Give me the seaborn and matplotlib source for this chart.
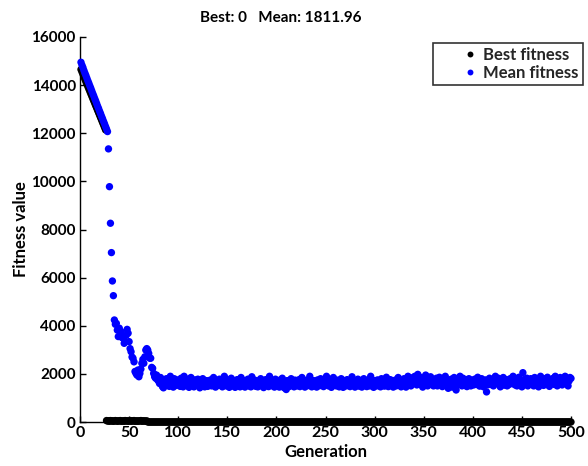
import numpy as np
import pandas as pd
import matplotlib
matplotlib.use("Agg")
import matplotlib.pyplot as plt
import seaborn as sns

title_text = "Best: 0   Mean: 1811.96"
x_label = "Generation"
y_label = "Fitness value"
series_names = ["Best fitness", "Mean fitness"]
x_ticks = [0, 50, 100, 150, 200, 250, 300, 350, 400, 450, 500]
y_ticks = [0, 2000, 4000, 6000, 8000, 10000, 12000, 14000, 16000]

best_start = [14650, 14550, 14450, 14340, 14240, 14140, 14040, 13940, 13840, 13740,
              13640, 13540, 13440, 13340, 13240, 13140, 13040, 12940, 12840, 12740,
              12640, 12540, 12440, 12340, 12240, 12140]
best_small = [60, 40, 50, 30, 60, 40, 50, 30, 40, 60, 50, 30, 40, 50,
              60, 30, 40, 50, 30, 60, 40, 50, 30, 40, 60, 30, 50, 40,
              60, 30, 40, 50, 30, 40, 50, 60, 30, 40, 50, 40, 30, 50]
best_zero = [0] * 432
best_fitness = best_start + best_small + best_zero

mean_fitness = [
    14950, 14830, 14730, 14610, 14500, 14400, 14290, 14180, 14080, 13970,
    13870, 13760, 13650, 13550, 13440, 13340, 13230, 13120, 13020, 12910,
    12810, 12700, 12600, 12490, 12390, 12280, 12180, 12070,
    11350, 9780, 8260, 7040, 5860, 5250,
    4240, 4060, 4100, 3820, 3550, 3900, 3620, 3750, 3500, 3550,
    3270, 3340, 3600, 3850, 3690, 3340,
    3050, 2920, 2700, 2650, 2500, 2100, 2020, 1950, 2160, 1880,
    2020, 2200, 2440, 2600, 2440, 2710, 2990, 3050, 2990, 2850,
    2650, 2650, 2270, 2230, 2020, 1880, 1820, 1950, 1750, 1700,
    1600, 1850, 1700, 1470, 1420, 1750, 1560, 1800, 1520, 1700, 1480, 1900, 1650, 1720, 1450, 1800, 1690, 1520, 1750, 1580,
    1700, 1480, 1820, 1650, 1460, 1900, 1720, 1530, 1680, 1780, 1440, 1650, 1850, 1700, 1520, 1460, 1750, 1680, 1540, 1780,
    1650, 1420, 1700, 1510, 1800, 1680, 1460, 1640, 1720, 1480, 1690, 1540, 1750, 1500, 1680, 1850, 1560, 1450, 1700, 1600,
    1520, 1780, 1650, 1700, 1460, 1560, 1900, 1680, 1500, 1750, 1620, 1440, 1700, 1820, 1650, 1500, 1720, 1440, 1680, 1760,
    1540, 1700, 1460, 1850, 1660, 1500, 1720, 1450, 1680, 1560, 1780, 1500, 1700, 1460, 1880, 1650, 1540, 1740, 1480, 1690,
    1460, 1720, 1560, 1800, 1500, 1680, 1430, 1700, 1760, 1540, 1650, 1470, 1900, 1680, 1510, 1720, 1560, 1450, 1780, 1620,
    1700, 1500, 1450, 1750, 1560, 1820, 1680, 1420, 1540, 1350, 1720, 1650, 1470, 1700, 1800, 1530, 1680, 1460, 1740, 1580,
    1500, 1700, 1760, 1470, 1650, 1850, 1540, 1700, 1450, 1680, 1740, 1510, 1650, 1900, 1700, 1460, 1580, 1720, 1500, 1680,
    1450, 1750, 1620, 1510, 1800, 1560, 1700, 1470, 1720, 1600, 1900, 1700, 1500, 1780, 1560, 1440, 1700, 1850, 1530, 1680,
    1500, 1740, 1620, 1460, 1700, 1800, 1560, 1440, 1720, 1640, 1500, 1760, 1600, 1700, 1470, 1580, 1880, 1700, 1540, 1450,
    1700, 1600, 1780, 1490, 1680, 1720, 1450, 1580, 1800, 1700, 1530, 1470, 1740, 1620, 1500, 1900, 1700, 1560, 1440, 1720,
    1680, 1500, 1750, 1600, 1700, 1460, 1800, 1560, 1720, 1490, 1640, 1860, 1700, 1470, 1580, 1760, 1520, 1700, 1450, 1680,
    1740, 1500, 1620, 1850, 1700, 1540, 1460, 1720, 1580, 1800, 1700, 1450, 1680, 1900, 1760, 1560, 1500, 1720, 1850, 1640,
    1900, 1700, 1540, 1980, 1760, 1560, 1850, 1700, 1450, 1800, 1720, 1950, 1600, 1500, 1780, 1700, 1880, 1560, 1720, 1500,
    1760, 1640, 1820, 1500, 1700, 1860, 1560, 1720, 1470, 1800, 1600, 1900, 1700, 1500, 1400, 1720, 1560, 1780, 1450, 1700,
    1850, 1540, 1330, 1700, 1760, 1560, 1900, 1680, 1500, 1820, 1700, 1560, 1760, 1470, 1720, 1800, 1600, 1500, 1740, 1640,
    1540, 1780, 1700, 1560, 1860, 1720, 1490, 1680, 1800, 1700, 1460, 1600, 1750, 1250, 1540, 1700, 1820, 1560, 1760, 1640,
    1500, 1740, 1900, 1600, 1700, 1820, 1560, 1460, 1760, 1700, 1850, 1530, 1680, 1760, 1500, 1700, 1560, 1800, 1720, 1600,
    1900, 1700, 1540, 1780, 1500, 1720, 1860, 1600, 1700, 1460, 2050, 1760, 1560, 1700, 1820, 1500, 1740, 1640, 1800, 1580,
    1720, 1500, 1850, 1700, 1560, 1760, 1460, 1700, 1900, 1600, 1740, 1520, 1800, 1700, 1560, 1860, 1720, 1480, 1760, 1640,
    1700, 1820, 1560, 1900, 1720, 1500, 1760, 1640, 1850, 1700, 1540, 1800, 1720, 1900, 1600, 1740, 1500, 1700, 1850, 1812,
]

generation = np.arange(1, len(mean_fitness) + 1)
df = pd.DataFrame({
    "Generation": np.concatenate([generation, generation]),
    "Fitness": np.concatenate([best_fitness, mean_fitness]),
    "Series": [series_names[0]] * len(best_fitness) + [series_names[1]] * len(mean_fitness),
})

sns.set_theme(style="white")
plt.rcParams["font.family"] = ["Lato", "DejaVu Sans"]
plt.rcParams["font.weight"] = "bold"

fig = plt.figure(figsize=(5.88, 4.66), dpi=100)
ax = fig.add_axes([80 / 588, 1 - 422 / 466, 491 / 588, 385 / 466])

sns.scatterplot(data=df, x="Generation", y="Fitness", hue="Series",
                palette={series_names[0]: "#000000", series_names[1]: "#0000FF"},
                s=28, linewidth=0, ax=ax, clip_on=False, legend=True, zorder=3)

ax.set_xlim(0, 500)
ax.set_ylim(0, 16000)
ax.set_xticks(x_ticks)
ax.set_yticks(y_ticks)
ax.set_xticklabels([str(t) for t in x_ticks], fontsize=11.5, fontweight="bold")
ax.set_yticklabels([str(t) for t in y_ticks], fontsize=11, fontweight="bold")
ax.tick_params(direction="in", length=4, width=1, color="black", pad=3,
               bottom=True, left=True, top=False, right=False, labelcolor="black")
ax.tick_params(axis="x", pad=3)
for side in ["top", "right"]:
    ax.spines[side].set_visible(False)
for side in ["left", "bottom"]:
    ax.spines[side].set_color("black")
    ax.spines[side].set_linewidth(1)

ax.set_xlabel(x_label, fontsize=12, fontweight="bold", labelpad=3, color="black")
ax.set_ylabel(y_label, fontsize=12, fontweight="bold", labelpad=2, color="black")
fig.text(281 / 588, 1 - 18 / 466, title_text, fontsize=11, fontweight="bold",
         ha="center", va="center", color="black")

handles, labels = ax.get_legend_handles_labels()
leg = ax.legend(handles, labels, loc="upper right", bbox_to_anchor=(583 / 588, 1 - 43 / 466),
                bbox_transform=fig.transFigure, frameon=True, fancybox=False,
                edgecolor="black", fontsize=12, handlelength=4.0, handletextpad=-1.2,
                borderpad=0.25, labelspacing=0.12, markerscale=0.8, borderaxespad=0)
leg.get_frame().set_linewidth(1.2)
for t in leg.get_texts():
    t.set_fontweight("bold")

fig.savefig("out.png", dpi=100, facecolor="white")
